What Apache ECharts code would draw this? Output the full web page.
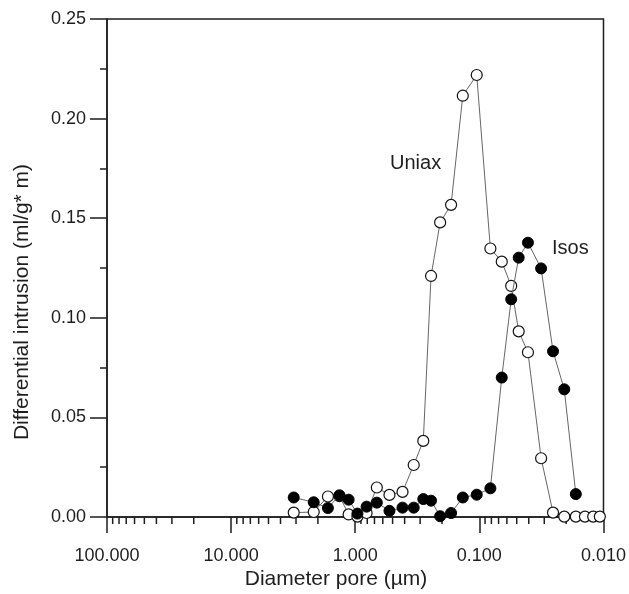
<!DOCTYPE html>
<html>
<head>
<meta charset="utf-8">
<script src="https://cdn.jsdelivr.net/npm/echarts@6/dist/echarts.min.js"></script>
<style>html,body{margin:0;padding:0;background:#fff;}#c{width:629px;height:594px;}</style>
</head>
<body>
<div id="c"></div>
<script>
// Pore diameters (µm)
const uniaxDiameter = [3.13, 2.16, 1.66, 1.34, 1.13, 0.96, 0.81, 0.67, 0.53, 0.416, 0.338, 0.283, 0.245, 0.207, 0.169, 0.136, 0.105, 0.0815, 0.066, 0.0554, 0.0482, 0.0406, 0.0318, 0.0255, 0.0207, 0.0167, 0.0141, 0.0121, 0.0107];
const uniaxValues = [0.0022, 0.0025, 0.0103, 0.0105, 0.0013, 0.0002, 0.0020, 0.0148, 0.0111, 0.0126, 0.0261, 0.0382, 0.1210, 0.1479, 0.1567, 0.2115, 0.2219, 0.1348, 0.1282, 0.1160, 0.0932, 0.0827, 0.0295, 0.0022, 0.0002, 0.0002, 0.0002, 0.0002, 0.0002];
const isosDiameter = [3.13, 2.16, 1.66, 1.34, 1.13, 0.96, 0.81, 0.67, 0.53, 0.416, 0.338, 0.283, 0.245, 0.207, 0.169, 0.136, 0.105, 0.0815, 0.066, 0.0554, 0.0482, 0.0406, 0.0318, 0.0255, 0.0207, 0.0167];
const isosValues = [0.0098, 0.0074, 0.0045, 0.0109, 0.0087, 0.0017, 0.0052, 0.0072, 0.0031, 0.0047, 0.0047, 0.0090, 0.0082, 0.0004, 0.0020, 0.0098, 0.0112, 0.0144, 0.0700, 0.1093, 0.1302, 0.1377, 0.1248, 0.0832, 0.0641, 0.0115];
// Minor tick positions of the log axis
const minorTickValues = [90, 80, 70, 60, 50, 40, 30, 20, 9, 8, 7, 6, 5, 4, 3, 2, 0.9, 0.8, 0.7, 0.6, 0.5, 0.4, 0.3, 0.2, 0.09, 0.08, 0.07, 0.06, 0.05, 0.04, 0.03, 0.02];

const FONT = 'Liberation Sans, Arial, sans-serif';
const INK = '#1e1e1e';
const chart = echarts.init(document.getElementById('c'));
const zip = (xs, ys) => xs.map((x, i) => [x, ys[i]]);

chart.setOption({
  animation: false,
  backgroundColor: '#fff',
  grid: { left: 107, right: 22, top: 19, bottom: 77, show: true, borderColor: INK, borderWidth: 1.5, backgroundColor: 'transparent' },
  xAxis: {
    type: 'log', logBase: 10, min: 0.01, max: 100, inverse: true,
    axisLine: { show: true, lineStyle: { color: INK, width: 1.5 } },
    axisTick: { show: true, length: 16, lineStyle: { color: INK, width: 1.5 } },
    axisLabel: { margin: 30, fontSize: 18, color: INK, fontFamily: FONT, formatter: v => Number(v).toFixed(3) },
    splitLine: { show: false }
  },
  yAxis: {
    type: 'value', min: 0, max: 0.25, interval: 0.05,
    axisLine: { show: true, lineStyle: { color: INK, width: 1.5 } },
    axisTick: { show: true, length: 17, lineStyle: { color: INK, width: 1.5 } },
    minorTick: { show: true, splitNumber: 2, length: 7, lineStyle: { color: INK, width: 1.5 } },
    axisLabel: { margin: 21, fontSize: 18, color: INK, fontFamily: FONT, formatter: v => v.toFixed(2) },
    splitLine: { show: false }
  },
  graphic: [
    { type: 'text', x: 390, y: 163, style: { text: 'Uniax', fontSize: 20, fontFamily: FONT, fill: INK, align: 'left', verticalAlign: 'middle' } },
    { type: 'text', x: 552, y: 248, style: { text: 'Isos', fontSize: 20, fontFamily: FONT, fill: INK, align: 'left', verticalAlign: 'middle' } },
    { type: 'text', x: 336, y: 579, style: { text: 'Diameter pore (µm)', fontSize: 21, fontFamily: FONT, fill: INK, align: 'center', verticalAlign: 'middle' } },
    { type: 'text', x: 22, y: 302, rotation: Math.PI / 2, style: { text: 'Differential intrusion (ml/g* m)', fontSize: 21, fontFamily: FONT, fill: INK, align: 'center', verticalAlign: 'middle' } }
  ],
  series: [
    {
      type: 'custom', coordinateSystem: 'cartesian2d', silent: true, clip: false, z: 1,
      data: minorTickValues.map(v => [v, 0]),
      renderItem: (params, api) => {
        const p = api.coord([api.value(0), 0]);
        return { type: 'line', shape: { x1: p[0], y1: p[1], x2: p[0], y2: p[1] + 7 }, style: { stroke: INK, lineWidth: 1.5 } };
      }
    },
    {
      name: 'Uniax', type: 'line', data: zip(uniaxDiameter, uniaxValues),
      symbol: 'circle', symbolSize: 11, showAllSymbol: true, z: 3,
      lineStyle: { color: '#666', width: 1 },
      itemStyle: { color: '#fff', borderColor: '#111', borderWidth: 1.2 }
    },
    {
      name: 'Isos', type: 'line', data: zip(isosDiameter, isosValues),
      symbol: 'circle', symbolSize: 11, showAllSymbol: true, z: 4,
      lineStyle: { color: '#666', width: 1 },
      itemStyle: { color: '#000', borderColor: '#000', borderWidth: 1 }
    }
  ]
});
</script>
</body>
</html>
